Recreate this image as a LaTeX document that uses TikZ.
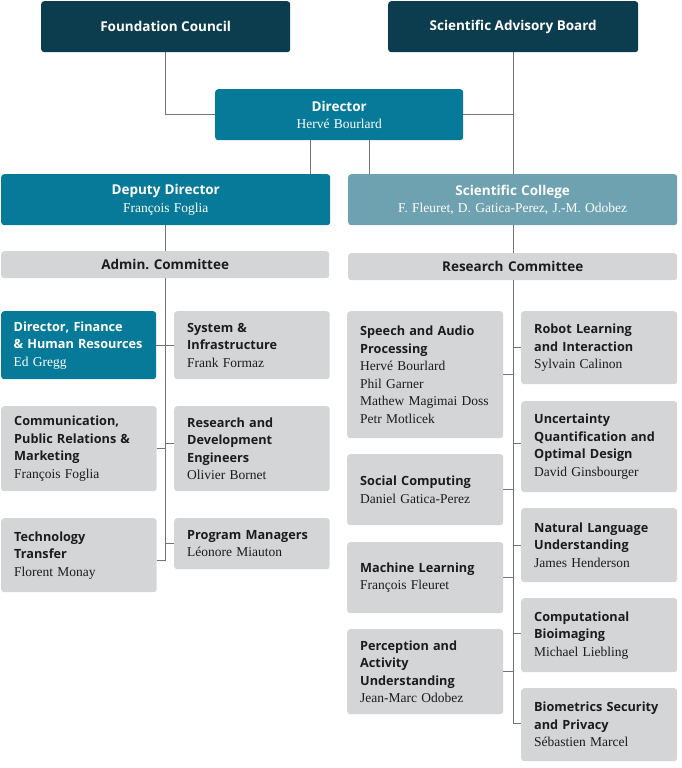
\documentclass[tikz,border=0pt]{standalone}
\usepackage{fontspec}
\setmainfont{Liberation Serif}
\setsansfont{Open Sans}
\usetikzlibrary{calc}
\definecolor{cdark}{HTML}{0B3D4E}
\definecolor{cmid}{HTML}{077A99}
\definecolor{clight}{HTML}{6EA2B1}
\definecolor{cgray}{HTML}{D4D5D7}
\definecolor{cline}{HTML}{747474}
\definecolor{ctext}{HTML}{1C1C1C}
\newcommand{\hd}{\fontsize{12.7}{17.5}\selectfont\sffamily\bfseries}
\newcommand{\hdl}{\fontsize{13.5}{18}\selectfont\sffamily\bfseries}
\newcommand{\nm}{\fontsize{13.5}{17.5}\selectfont\rmfamily\mdseries}
\newcommand{\bfont}{\fontsize{12.5}{17.5}\selectfont\hyphenpenalty=10000\relax}
\tikzset{%
    box/.style={rectangle, rounded corners=3pt, inner xsep=13pt, inner ysep=0pt, anchor=north west, font=\bfont},
    topb/.style={box, fill=cdark, text=white, font=\hdl, minimum width=#1, minimum height=51pt, align=center},
    head/.style={box, fill=cmid, text=white, text width=#1, minimum height=51pt, align=center},
    comm/.style={box, fill=cgray, text=ctext, font=\hdl, text width=#1, minimum height=27pt, align=center},
    unit/.style={box, fill=cgray, text=ctext, text width=129.5pt, minimum height=#1, align=left},
    ln/.style={line width=1.2pt, draw=cline},
}
\begin{document}
\begin{tikzpicture}[x=1pt, y=-1pt]
    \useasboundingbox (0,0) rectangle (682,768);
    \node [topb=249pt] (fc) at (41,1) {Foundation Council};
    \node [topb=250pt] (sab) at (388,1) {Scientific Advisory Board};
    \node [head=222pt] (dir) at (215,89) {\hdl Director\\ \nm Hervé Bourlard};
    \node [head=303pt] (dep) at (1,174) {\hdl Deputy Director\\ \nm François Foglia};
    \node [head=303pt, fill=clight] (sc) at (348,174) {\hdl Scientific College\\ \nm F. Fleuret, D. Gatica-Perez, J.-M. Odobez};
    \node [comm=302pt] (adm) at (1,251) {Admin.\ Committee};
    \node [comm=303pt] (rc) at (348,253) {Research Committee};

    \node [unit=68pt, fill=cmid, text=white, text width=130pt, inner xsep=12.5pt] (dfh) at (1,311) {\hd Director, Finance\\ \& Human Resources\\ \nm Ed Gregg};
    \node [unit=68pt] (sys) at (174,311) {\hd System \&\\ Infrastructure\\ \nm Frank Formaz};
    \node [unit=85pt] (com) at (1,406) {\hd Communication,\\ Public Relations \&\\ Marketing\\ \nm François Foglia};
    \node [unit=85pt] (rde) at (174,406) {\hd Research and\\ Development\\ Engineers\\ \nm Olivier Bornet};
    \node [unit=74pt] (tt) at (1,518) {\hd Technology\\ Transfer\\ \nm Florent Monay};
    \node [unit=51pt] (pm) at (174,518) {\hd Program Managers\\ \nm Léonore Miauton};

    \node [unit=127pt, text width=130pt] (sap) at (347,311) {\hd Speech and Audio\\ Processing\\ \nm Hervé Bourlard\\ Phil Garner\\ Mathew Magimai Doss\\ Petr Motlicek};
    \node [unit=73pt, text width=130pt] (rli) at (521,311) {\hd Robot Learning\\ and Interaction\\ \nm Sylvain Calinon};
    \node [unit=91pt, text width=130pt] (uq) at (521,401) {\hd Uncertainty\\ Quantification and\\ Optimal Design\\ \nm David Ginsbourger};
    \node [unit=71pt, text width=130pt] (soc) at (347,454) {\hd Social Computing\\ \nm Daniel Gatica-Perez};
    \node [unit=74pt, text width=130pt] (nlu) at (521,508) {\hd Natural Language\\ Understanding\\ \nm James Henderson};
    \node [unit=71pt, text width=130pt] (ml) at (347,542) {\hd Machine Learning\\ \nm François Fleuret};
    \node [unit=74pt, text width=130pt] (cb) at (521,598) {\hd Computational\\ Bioimaging\\ \nm Michael Liebling};
    \node [unit=85pt, text width=130pt] (pau) at (347,629) {\hd Perception and\\ Activity\\ Understanding\\ \nm Jean-Marc Odobez};
    \node [unit=73pt, text width=130pt] (bsp) at (521,688) {\hd Biometrics Security\\ and Privacy\\ \nm Sébastien Marcel};

    \coordinate (dl) at ([xshift=-29pt]dir.south);
    \coordinate (dr) at ([xshift=30pt]dir.south);
    \coordinate (ls) at (dep.south);
    \coordinate (rs) at (sab.south);
    \draw [ln] (fc) |- (dir);
    \draw [ln] (rs) -- (rs |- sc.north);
    \draw [ln] (dir.east) -- (dir.east -| rs);
    \draw [ln] (dl) -- (dl |- dep.north);
    \draw [ln] (dr) -- (dr |- sc.north);
    \draw [ln] (ls) -- (ls |- adm.north);
    \draw [ln] (rs |- sc.south) -- (rs |- rc.north);

    \draw [ln] (ls |- adm.south) -- ([yshift=-5pt]ls |- tt.east);
    \draw [ln] (dfh.east) -- (sys.west);
    \draw [ln] (com.east) -- (com.east -| ls);
    \draw [ln] ([yshift=5.5pt]rde.west) -- ([yshift=5.5pt]rde.west -| ls);
    \draw [ln] ([yshift=-5pt]tt.east) -- ([yshift=-5pt]tt.east -| ls);
    \draw [ln] (pm.west) -- (pm.west -| ls);

    \draw [ln] (rs |- rc.south) -- ([yshift=1.5pt]rs |- bsp.west);
    \draw [ln] (sap.east) -- (sap.east -| rs);
    \draw [ln] (rli.west) -- (rli.west -| rs);
    \draw [ln] ([yshift=3.5pt]uq.west) -- ([yshift=3.5pt]uq.west -| rs);
    \draw [ln] (soc.east) -- (soc.east -| rs);
    \draw [ln] (nlu.west) -- (nlu.west -| rs);
    \draw [ln] (ml.east) -- (ml.east -| rs);
    \draw [ln] ([yshift=1.5pt]cb.west) -- ([yshift=1.5pt]cb.west -| rs);
    \draw [ln] (pau.east) -- (pau.east -| rs);
    \draw [ln] ([yshift=1.5pt]bsp.west) -- ([yshift=1.5pt]bsp.west -| rs);
\end{tikzpicture}
\end{document}
